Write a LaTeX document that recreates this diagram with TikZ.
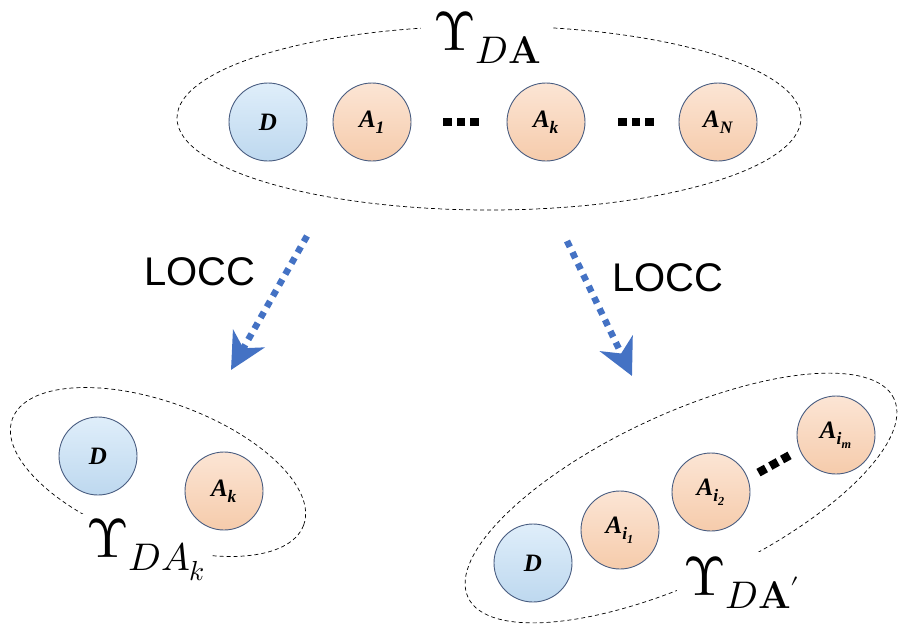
\documentclass[tikz,border=0pt]{standalone}
\usepackage{amsmath}
\usepackage{fontspec}
\usepackage{unicode-math}
\setmathfont{Latin Modern Math}
\usetikzlibrary{arrows.meta,shapes.geometric}
\newfontfamily\partyfont{Liberation Serif}
\newfontfamily\loccfont{Liberation Sans}
\definecolor{dblue}{RGB}{197,224,246}
\definecolor{aorange}{RGB}{249,208,178}
\definecolor{rim}{RGB}{72,92,128}
\definecolor{flowblue}{RGB}{68,114,196}
\newcommand{\dotrow}{\rule{8.5pt}{8.5pt}\hspace{5pt}\rule{8.5pt}{8.5pt}\hspace{5pt}\rule{8.5pt}{8.5pt}}
\tikzset{
  party/.style={circle, minimum size=78pt, inner sep=0pt, draw=rim, line width=0.9pt,
    font=\partyfont\bfseries\itshape\fontsize{25}{25}\selectfont},
  dparty/.style={party, top color=dblue!55!white, middle color=dblue, bottom color=dblue!94!rim},
  aparty/.style={party, top color=aorange!55!white, middle color=aorange, bottom color=aorange!94!brown},
  group/.style={ellipse, draw, dashed, line width=0.7pt, dash pattern=on 4pt off 3pt, inner sep=0pt},
  glabel/.style={fill=white, inner xsep=6pt, inner ysep=4pt, font=\fontsize{55}{55}\selectfont},
  dotrow/.style={inner sep=0pt},
  flow/.style={draw=flowblue, line width=6.5pt, dash pattern=on 6.5pt off 6pt,
    -{Stealth[length=36pt, width=36pt, inset=11pt, fill=flowblue]}},
  locc/.style={font=\loccfont\fontsize{40}{40}\selectfont}
}
\begin{document}
\begin{tikzpicture}[x=1pt, y=1pt]
  \useasboundingbox (0,0) rectangle (902,-627);
  % groups and their labels
  \node[group, minimum width=624pt, minimum height=184pt] (all) at (489,-118) {};
  \node[glabel, anchor=base west, inner xsep=12pt] (lall) at (421,-50) {$\Upsilon_{D\mathbf{A}}$};
  \node[group, minimum width=310pt, minimum height=140pt, rotate=-20] (pair) at (158,-472) {};
  \node[glabel, anchor=base west] (lpair) at (80,-557) {$\Upsilon_{DA_k}$};
  \node[group, minimum width=470pt, minimum height=167pt, rotate=25] (sub) at (681,-498) {};
  \node[glabel, anchor=base west] (lsub) at (677,-595) {$\Upsilon_{D\mathbf{A}'}$};

  % all parties
  \path (268,-122) node[dparty] (d)  {D}
        (372,-122) node[aparty] (a1) {A\textsubscript{1}}
        (461,-122) node[dotrow]  (dots1) {\dotrow}
        (546,-122) node[aparty] (ak) {A\textsubscript{k}}
        (636,-122) node[dotrow]  (dots2) {\dotrow}
        (718,-122) node[aparty] (an) {A\textsubscript{N}};

  % LOCC arrows
  \coordinate (l1) at (307,-236);
  \coordinate (l2) at (231,-370);
  \coordinate (r1) at (567,-241);
  \coordinate (r2) at (632,-376);
  \draw[flow] (l1) -- (l2);
  \draw[flow] (r1) -- (r2);
  \node[locc] (locc1) at (200,-272) {LOCC};
  \node[locc] (locc2) at (668,-278) {LOCC};

  % pair D, A_k
  \path (98,-456)  node[dparty] (dp)  {D}
        (224,-491) node[aparty] (akp) {A\textsubscript{k}};

  % subset A'
  \path (533,-563) node[dparty] (ds)  {D}
        (620,-530) node[aparty] (ai1) {A\textsubscript{\textit{i}\textsubscript{1}}}
        (711,-492) node[aparty] (ai2) {A\textsubscript{\textit{i}\textsubscript{2}}}
        (774,-464) node[dotrow, rotate=29] (dots3) {\dotrow}
        (836,-435) node[aparty] (aim) {A\textsubscript{\textit{i}\textsubscript{m}}};
\end{tikzpicture}
\end{document}
